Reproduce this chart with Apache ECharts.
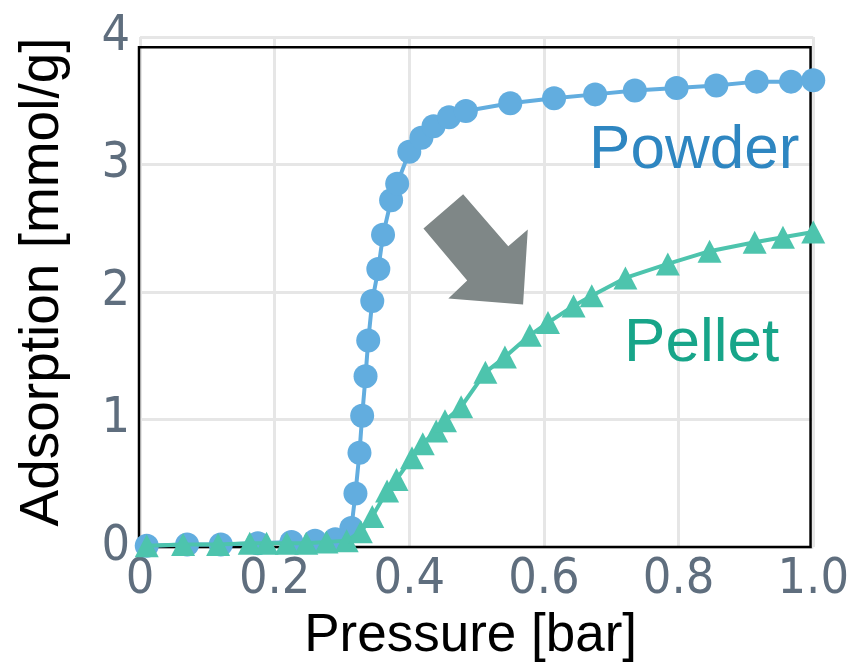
<!DOCTYPE html>
<html>
<head>
<meta charset="utf-8">
<script src="https://cdn.jsdelivr.net/npm/echarts@6/dist/echarts.min.js"></script>
<style>
  html, body { margin: 0; padding: 0; background: #fff; }
  #chart { width: 852px; height: 671px; }
</style>
</head>
<body>
<div id="chart"></div>
<script>
const chart = echarts.init(document.getElementById("chart"));

// ---- data ----
const xTickLabels = ["0", "0.2", "0.4", "0.6", "0.8", "1.0"];

const powderP = [0.01, 0.07, 0.12, 0.175, 0.225, 0.26, 0.29, 0.314, 0.32, 0.326, 0.33, 0.335,
  0.339, 0.345, 0.354, 0.361, 0.373, 0.382, 0.40, 0.418, 0.436, 0.459, 0.484, 0.55, 0.615,
  0.676, 0.735, 0.797, 0.856, 0.916, 0.967, 1.0];
const powderQ = [0.01, 0.02, 0.02, 0.03, 0.04, 0.05, 0.06, 0.15, 0.42, 0.74, 1.03, 1.34,
  1.62, 1.93, 2.18, 2.45, 2.72, 2.85, 3.10, 3.21, 3.30, 3.37, 3.42, 3.48, 3.52,
  3.55, 3.58, 3.60, 3.62, 3.65, 3.65, 3.66];

const pelletP = [0.01, 0.064, 0.116, 0.163, 0.188, 0.218, 0.247, 0.277, 0.307, 0.328, 0.345,
  0.367, 0.381, 0.404, 0.42, 0.44, 0.453, 0.477, 0.513, 0.542, 0.579, 0.606, 0.644, 0.671,
  0.721, 0.784, 0.846, 0.913, 0.955, 1.0];
const pelletQ = [0.01, 0.02, 0.02, 0.03, 0.03, 0.03, 0.03, 0.04, 0.05, 0.12, 0.24,
  0.44, 0.53, 0.70, 0.81, 0.91, 0.99, 1.10, 1.37, 1.49, 1.66, 1.76, 1.89, 1.97,
  2.11, 2.22, 2.32, 2.39, 2.43, 2.47];

// ---- annotations (data coordinates) ----
const ARROW = [[0.421, 2.499], [0.480, 2.766], [0.547, 2.358], [0.576, 2.491],
  [0.569, 1.902], [0.458, 1.949], [0.486, 2.090]];
const FRAME_TOP = 3.92;
const FRAME_RIGHT = 0.996;

const TICK_FONT = "'Liberation Sans Narrow', 'DejaVu Sans Condensed', sans-serif";
const TEXT_FONT = "'Liberation Sans', Arial, sans-serif";

chart.setOption({
  animation: false,
  grid: { left: 140, right: 37, top: 37, bottom: 124 },
  xAxis: {
    type: "value",
    min: 0, max: 1, interval: 0.2,
    name: "Pressure [bar]",
    nameLocation: "middle",
    nameGap: 58,
    nameTextStyle: { fontSize: 53, color: "#000", fontFamily: TEXT_FONT, padding: [0, 12, 0, 0] },
    axisLine: { show: false },
    axisTick: { show: false },
    axisLabel: {
      fontSize: 50, color: "#5f6e7e", fontFamily: TICK_FONT, margin: 8,
      formatter: v => xTickLabels[Math.round(v / 0.2)]
    },
    splitLine: { lineStyle: { color: "#e6e6e6", width: 3 } }
  },
  yAxis: {
    type: "value",
    min: 0, max: 4, interval: 1,
    name: "Adsorption [mmol/g]",
    nameLocation: "middle",
    nameGap: 70,
    nameTextStyle: { fontSize: 55, color: "#000", fontFamily: TEXT_FONT, padding: [0, 0, 0, 20] },
    axisLine: { show: false },
    axisTick: { show: false },
    axisLabel: { fontSize: 50, color: "#5f6e7e", fontFamily: TICK_FONT, margin: 10 },
    splitLine: { lineStyle: { color: "#e6e6e6", width: 3 } }
  },
  series: [
    {
      name: "Powder",
      type: "line",
      data: powderP.map((p, i) => [p, powderQ[i]]),
      symbol: "circle",
      symbolSize: 24,
      lineStyle: { color: "#62addf", width: 4 },
      itemStyle: { color: "#62addf" },
      clip: true,
      z: 3
    },
    {
      name: "Pellet",
      type: "line",
      data: pelletP.map((p, i) => [p, pelletQ[i]]),
      symbol: "triangle",
      symbolSize: [24, 23],
      lineStyle: { color: "#4dc4ad", width: 4 },
      itemStyle: { color: "#4dc4ad" },
      clip: true,
      z: 4
    }
  ]
});

// ---- frame, arrow and series labels ----
const px = (p, q) => chart.convertToPixel({ gridIndex: 0 }, [p, q]);
const tl = px(0, FRAME_TOP);
const br = px(FRAME_RIGHT, 0);
const powderPos = px(0.667, 3.11);
const pelletPos = px(0.719, 1.595);

chart.setOption({
  graphic: [
    {
      type: "rect",
      z: 1,
      shape: { x: tl[0] - 1, y: tl[1], width: br[0] - tl[0] + 1, height: br[1] - tl[1] },
      style: { fill: "none", stroke: "#000", lineWidth: 2.5 }
    },
    {
      type: "polygon",
      z: 10,
      shape: { points: ARROW.map(a => px(a[0], a[1])) },
      style: { fill: "#7f8787" }
    },
    {
      type: "text",
      z: 10,
      x: powderPos[0], y: powderPos[1],
      style: {
        text: "Powder", fill: "#2e86c1",
        font: "62px " + TEXT_FONT, textAlign: "left", textVerticalAlign: "middle"
      }
    },
    {
      type: "text",
      z: 10,
      x: pelletPos[0], y: pelletPos[1],
      style: {
        text: "Pellet", fill: "#17a589",
        font: "62px " + TEXT_FONT, textAlign: "left", textVerticalAlign: "middle"
      }
    }
  ]
});
</script>
</body>
</html>
